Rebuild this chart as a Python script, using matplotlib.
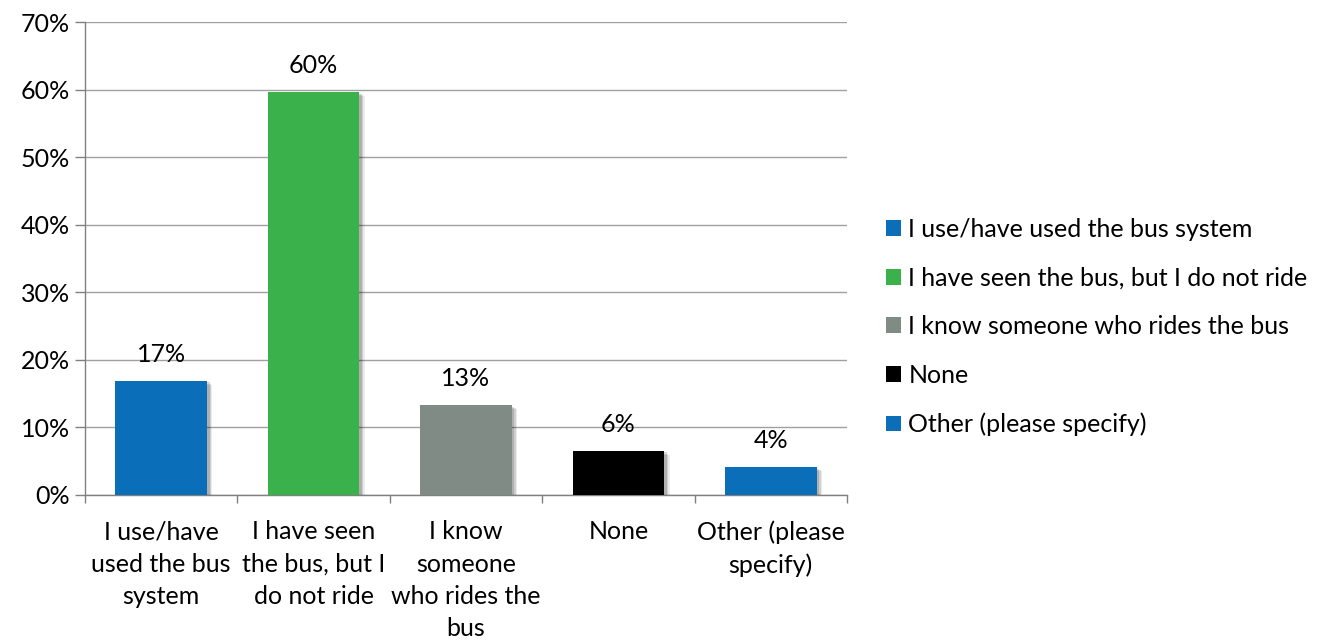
import matplotlib
matplotlib.use("Agg")
import matplotlib.pyplot as plt
from matplotlib.patches import Patch
import matplotlib.patheffects as pe

categories = ["I use/have used the bus system",
              "I have seen the bus, but I do not ride",
              "I know someone who rides the bus",
              "None",
              "Other (please specify)"]
tick_labels = ["I use/have\nused the bus\nsystem",
               "I have seen\nthe bus, but I\ndo not ride",
               "I know\nsomeone\nwho rides the\nbus",
               "None",
               "Other (please\nspecify)"]
values = [16.9, 59.6, 13.3, 6.5, 4.1]
value_labels = ["17%", "60%", "13%", "6%", "4%"]
colors = ["#0A6EB8", "#3AB14A", "#7F8B84", "#000000", "#0A6EB8"]
yticks = [0, 10, 20, 30, 40, 50, 60, 70]

plt.rcParams['font.family'] = ['Lato', 'DejaVu Sans']
FS = 18

fig = plt.figure(figsize=(13.3, 6.4), dpi=100)
ax = fig.add_axes([85/1330, 1-495/640, 762/1330, 473/640])

x = list(range(len(values)))
bars = ax.bar(x, values, width=0.6, color=colors, zorder=3)
for b in bars:
    b.set_path_effects([
        pe.SimplePatchShadow(offset=(4, -3), alpha=0.08, shadow_rgbFace='#000000'),
        pe.SimplePatchShadow(offset=(3, -2), alpha=0.12, shadow_rgbFace='#000000'),
        pe.SimplePatchShadow(offset=(2, -1), alpha=0.15, shadow_rgbFace='#000000'),
        pe.Normal()])

for xi, v, lab in zip(x, values, value_labels):
    ax.annotate(lab, (xi, v), xytext=(0, 11), textcoords='offset points',
                ha='center', va='bottom', fontsize=FS)

ax.set_xlim(-0.5, len(values) - 0.5)
ax.set_ylim(0, 70)
ax.set_yticks(yticks)
ax.set_yticklabels([f"{t}%" for t in yticks], fontsize=FS)
ax.yaxis.grid(True, color='#A0A0A0', linewidth=1, zorder=0)
ax.set_axisbelow(True)

ax.set_xticks(x)
ax.set_xticklabels(tick_labels, fontsize=FS, linespacing=1.5)
ax.tick_params(axis='x', length=0, pad=18)
ax.set_xticks([i + 0.5 for i in range(-1, len(values))], minor=True)
ax.tick_params(axis='x', which='minor', length=6, color='#808080', width=1)
ax.tick_params(axis='y', length=7, color='#808080', width=1, pad=4)

for s in ['top', 'right']:
    ax.spines[s].set_visible(False)
for s in ['left', 'bottom']:
    ax.spines[s].set_color('#808080')
    ax.spines[s].set_linewidth(1)

handles = [Patch(facecolor=c, edgecolor='none') for c in colors]
fig.legend(handles, categories, loc='center left', bbox_to_anchor=(886/1330, 1-327/640),
           frameon=False, fontsize=FS, handlelength=0.6, handleheight=0.6,
           handletextpad=0.3, labelspacing=1.03, borderaxespad=0, borderpad=0)

fig.savefig("out.png", dpi=100, facecolor='white')
